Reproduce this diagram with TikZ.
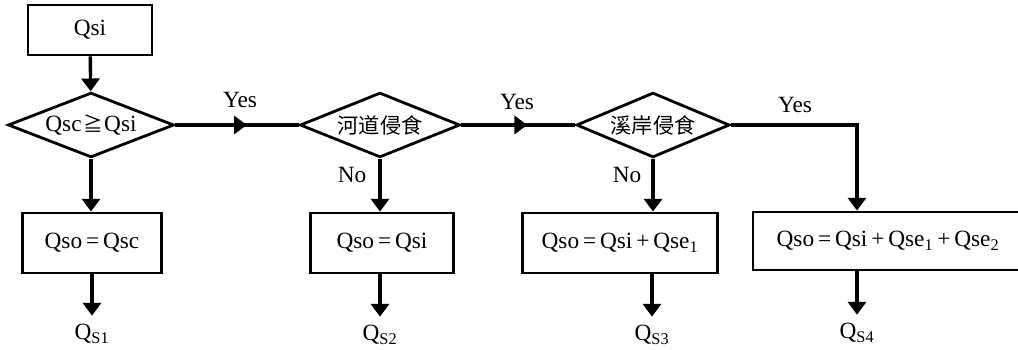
\documentclass[tikz,border=0pt]{standalone}
\usepackage{fontspec}
\setmainfont{Liberation Serif}
\newfontfamily\cjk{Noto Sans CJK SC}
\usetikzlibrary{shapes.geometric,arrows.meta,decorations.markings}
\begin{document}
\begin{tikzpicture}[x=0.025cm,y=-0.025cm,line width=2.4pt,every node/.style={font=\fontsize{16.5bp}{18bp}\selectfont,inner sep=0pt},box/.style={draw,line width=2pt,minimum height=1.5cm},test/.style={draw,line width=2pt,diamond,aspect=2.5,minimum width=4cm,minimum height=1.62cm},>={Triangle[length=0.32cm,width=0.45cm]},midarrow/.style={postaction={decorate},decoration={markings,mark=at position 0.58 with {\arrow{>}}}}]
\useasboundingbox (0,0) rectangle (1018,349);
\node[box,minimum width=3.1cm,minimum height=1.25cm] (si) at (90,30) {Qsi};
\node[test,minimum width=4.15cm] (t1) at (91,125) {Qsc\kern1pt{\cjk\fontsize{14bp}{16bp}\selectfont ≧}\kern1ptQsi};
\node[test] (t2) at (380,125) {\cjk\fontsize{15bp}{17bp}\selectfont 河道侵食};
\node[test,minimum width=3.83cm] (t3) at (653,125) {\cjk\fontsize{15bp}{17bp}\selectfont 溪岸侵食};
\node[box,minimum width=3.475cm] (o1) at (92,243) {Qso\,=\,Qsc};
\node[box,minimum width=3.575cm] (o2) at (382,243) {Qso\,=\,Qsi};
\node[box,minimum width=4.875cm] (o3) at (620,243) {Qso\,=\,Qsi\,+\,Qse\textsubscript{1}};
\node[box,minimum width=6.75cm,minimum height=1.45cm] (o4) at (888,241) {Qso\,=\,Qsi\,+\,Qse\textsubscript{1}\,+\,Qse\textsubscript{2}};
\node (q1) at (92,334) {Q\textsubscript{S1}};
\node (q2) at (380,335) {Q\textsubscript{S2}};
\node (q3) at (652,335) {Q\textsubscript{S3}};
\node (q4) at (857,333) {Q\textsubscript{S4}};
\node (y1) at (240,100) {Yes};
\node (y2) at (517,102) {Yes};
\node (y3) at (795,105) {Yes};
\node (n2) at (352,175) {No};
\node (n3) at (627,175) {No};
\coordinate (k) at (857,125);
\draw[->] (si) -- (t1);\draw[->] (t1.south) -- (t1.south |- o1.north);\draw[->] (t2.south) -- (t2.south |- o2.north);\draw[->] (t3.south) -- (t3.south |- o3.north);
\draw[midarrow] (t1.east) -- (t2.west);\draw[midarrow] (t2.east) -- (t3.west);\draw[->] (t3.east) -- (k) -- (k |- o4.north);
\draw[->] (o1.south -| q1) -- ([yshift=5pt]q1.north);\draw[->] (o2.south -| q2) -- ([yshift=5pt]q2.north);\draw[->] (o3.south -| q3) -- ([yshift=5pt]q3.north);\draw[->] (o4.south -| q4) -- ([yshift=5pt]q4.north);
\end{tikzpicture}
\end{document}
